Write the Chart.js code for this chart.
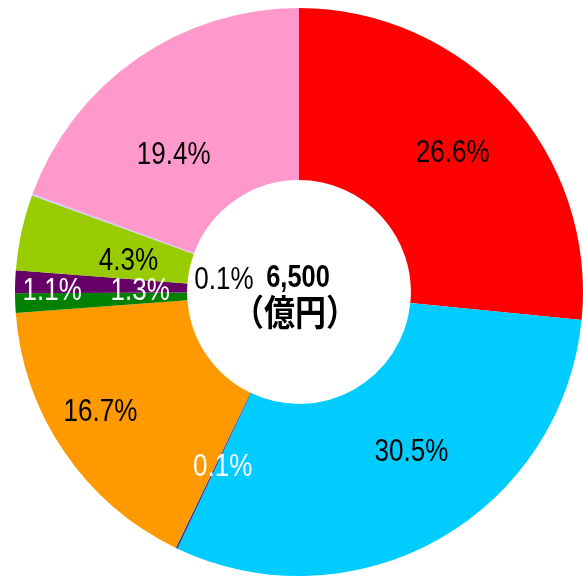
<!DOCTYPE html>
<html>
<head>
<meta charset="utf-8">
<script src="https://cdn.jsdelivr.net/npm/chart.js@4.4.0/dist/chart.umd.min.js"></script>
<style>
html,body{margin:0;padding:0;background:#fff;}
#wrap{width:583px;height:577px;position:relative;}
</style>
</head>
<body>
<div id="wrap"><canvas id="c" width="583" height="577"></canvas></div>
<script>
// Data
const categories = ['区分A','区分B','区分C','区分D','区分E','区分F','区分G','区分H','区分I'];
const shares = [26.6, 30.5, 0.1, 16.7, 1.1, 1.3, 4.3, 0.1, 19.4];
const totalLabel = ['6,500', '（億円）'];

// Styles
const colors = ['#ff0000','#00ccff','#333399','#ff9900','#008000','#660066','#99cc00','#ccccff','#ff99cc'];
const labelColors = ['#000','#000','#fff','#000','#fff','#fff','#000','#000','#000'];
const labelOffsets = [[7,-7],[15,-13],[9,-4],[-35,8],[-49,-9],[39,6],[23,10],[111,55],[-12,25]];

function drawScaled(ctx, text, x, y, sx) {
  ctx.save();
  ctx.translate(x, y);
  ctx.scale(sx, 1);
  ctx.fillText(text, 0, 0);
  ctx.restore();
}

const labelPlugin = {
  id: 'sliceLabels',
  afterDatasetsDraw(chart) {
    const ctx = chart.ctx;
    const meta = chart.getDatasetMeta(0);
    ctx.save();
    ctx.font = '31px "Liberation Sans", Arial, sans-serif';
    ctx.textAlign = 'center';
    ctx.textBaseline = 'middle';
    meta.data.forEach((arc, i) => {
      const p = arc.getCenterPoint();
      const o = labelOffsets[i];
      ctx.fillStyle = labelColors[i];
      drawScaled(ctx, shares[i].toFixed(1) + '%', p.x + o[0], p.y + o[1] + 1, 0.84);
    });
    const a0 = meta.data[0];
    ctx.fillStyle = '#000';
    ctx.font = 'bold 31px "Liberation Sans", Arial, sans-serif';
    drawScaled(ctx, totalLabel[0], a0.x - 1, a0.y - 13.5, 0.82);
    ctx.font = 'bold 36px "Noto Sans CJK JP", sans-serif';
    drawScaled(ctx, totalLabel[1], a0.x - 4, a0.y + 20, 0.86);
    ctx.restore();
  }
};

new Chart(document.getElementById('c'), {
  type: 'doughnut',
  data: {
    labels: categories,
    datasets: [{
      data: shares,
      backgroundColor: colors,
      borderWidth: 0
    }]
  },
  options: {
    responsive: false,
    animation: false,
    cutout: '39.4%',
    layout: { padding: { left: 15, right: 0, top: 8, bottom: 1 } },
    plugins: { legend: { display: false }, tooltip: { enabled: false } }
  },
  plugins: [labelPlugin]
});
</script>
</body>
</html>
